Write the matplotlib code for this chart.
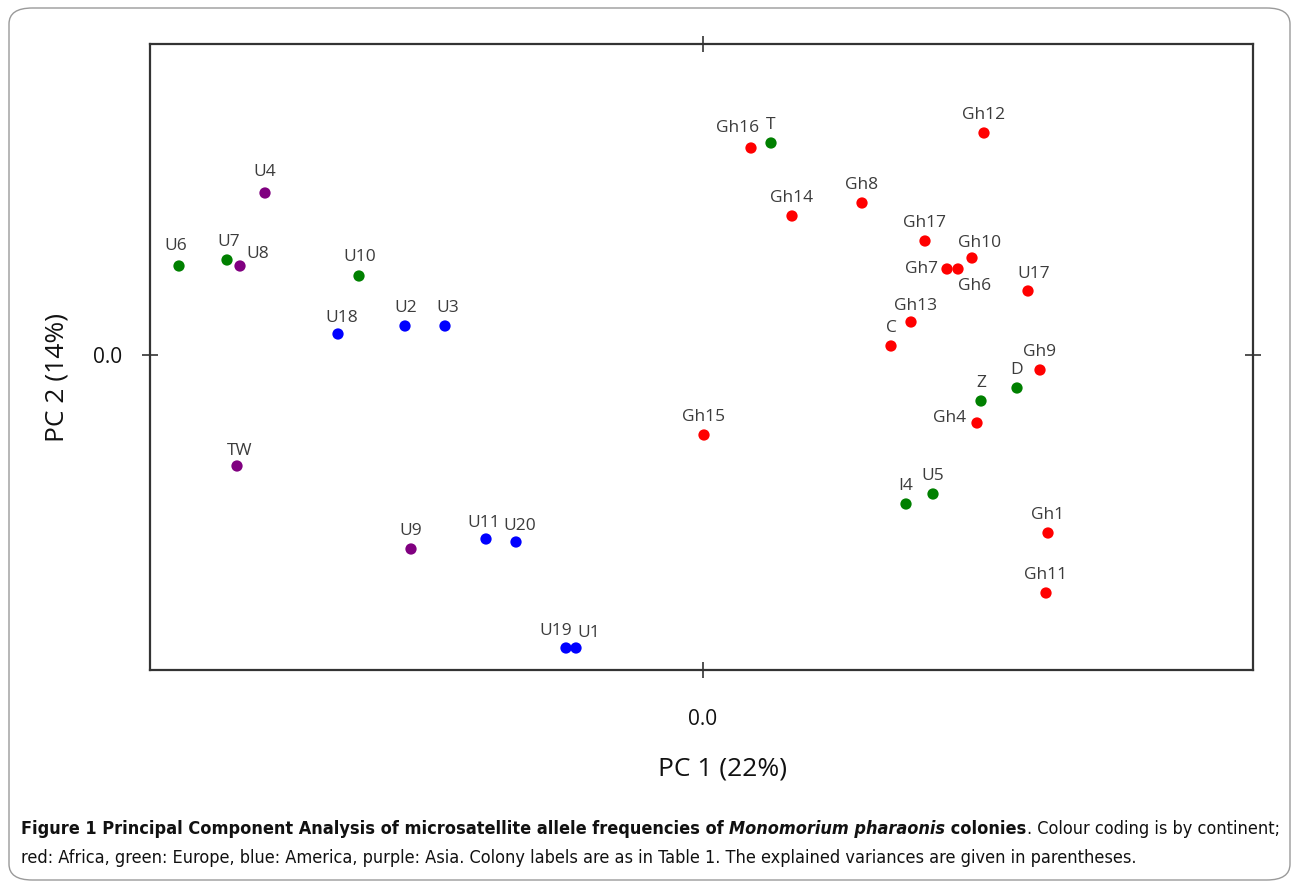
import matplotlib
matplotlib.use("Agg")
import matplotlib.pyplot as plt
from matplotlib.patches import FancyBboxPatch

# ---- data (PC scores, arbitrary units) ----
africa_labels = ["Gh16", "Gh12", "Gh14", "Gh8", "Gh17", "Gh10", "Gh7", "Gh6", "U17",
                 "Gh13", "C", "Gh9", "Gh4", "Gh15", "Gh1", "Gh11"]
africa_pc1 = [0.48, 2.81, 0.89, 1.59, 2.22, 2.69, 2.44, 2.55, 3.25, 2.08, 1.88, 3.37, 2.74, 0.01, 3.45, 3.43]
africa_pc2 = [2.07, 2.22, 1.39, 1.52, 1.14, 0.97, 0.86, 0.86, 0.64, 0.33, 0.09, -0.15, -0.68, -0.80, -1.78, -2.38]

europe_labels = ["U6", "U7", "U10", "T", "Z", "D", "I4", "U5"]
europe_pc1 = [-5.24, -4.76, -3.44, 0.68, 2.78, 3.14, 2.03, 2.30]
europe_pc2 = [0.89, 0.95, 0.79, 2.12, -0.46, -0.33, -1.49, -1.39]

america_labels = ["U18", "U2", "U3", "U11", "U20", "U19", "U1"]
america_pc1 = [-3.65, -2.98, -2.58, -2.17, -1.87, -1.37, -1.27]
america_pc2 = [0.21, 0.29, 0.29, -1.84, -1.87, -2.93, -2.93]

asia_labels = ["U4", "U8", "TW", "U9"]
asia_pc1 = [-4.38, -4.63, -4.66, -2.92]
asia_pc2 = [1.62, 0.89, -1.11, -1.94]

# label offsets in pixels (dx, dy) relative to the point; default is above
label_offsets = {
    "U8": (18, 12), "Gh7": (-25, 0), "Gh6": (17, -17), "U17": (6, 17),
    "Gh16": (-13, 20), "U19": (-10, 17), "U1": (13, 15), "U18": (4, 16),
    "U2": (1, 18), "U3": (3, 18), "TW": (3, 15), "U9": (0, 18),
    "U11": (-2, 16), "U20": (4, 16), "Gh4": (-27, 5), "Gh13": (5, 16),
    "Gh10": (8, 15), "U6": (-3, 20), "U7": (2, 18), "U4": (0, 21),
    "U10": (1, 19),
}

groups = [
    (africa_labels, africa_pc1, africa_pc2, "#ff0000"),
    (europe_labels, europe_pc1, europe_pc2, "#008000"),
    (america_labels, america_pc1, america_pc2, "#0000ff"),
    (asia_labels, asia_pc1, asia_pc2, "#800080"),
]

W, H = 1292, 882
fig = plt.figure(figsize=(W / 100, H / 100), dpi=100)

# rounded outer frame
frame = FancyBboxPatch((9 / W, 2 / H), (W - 11) / W, (880 - 8) / H,
                       boxstyle="round,pad=0,rounding_size=0.018",
                       transform=fig.transFigure, fill=False,
                       edgecolor="#9a9a9a", linewidth=1.0)
fig.patches.append(frame)

ax = fig.add_axes([150 / W, (H - 670) / H, 1103 / W, 626 / H])
ax.set_xlim(-5.53, 5.50)
ax.set_ylim(-3.15, 3.11)

px = 0.72  # points per pixel at 100 dpi
for labels, xs, ys, col in groups:
    ax.scatter(xs, ys, s=66, color=col, marker="o", edgecolors="none", zorder=3)
    for lab, x, y in zip(labels, xs, ys):
        dx, dy = label_offsets.get(lab, (0, 18))
        ax.annotate(lab, (x, y), xytext=(dx * px, dy * px), textcoords="offset points",
                    ha="center", va="center", fontsize=12.5, color="#3c3c3c",
                    family="Open Sans")

for sp in ax.spines.values():
    sp.set_color("#333333")
    sp.set_linewidth(1.6)

ax.set_xticks([0.0])
ax.set_yticks([0.0])
ax.set_xticklabels(["0.0"])
ax.set_yticklabels(["0.0"])
ax.tick_params(axis="both", which="both", direction="inout", length=12, width=1.2,
               color="#333333", top=True, right=True, labeltop=False, labelright=False,
               labelsize=15, labelcolor="#111111")
ax.tick_params(axis="x", pad=22)
ax.tick_params(axis="y", pad=14)
for t in ax.get_xticklabels() + ax.get_yticklabels():
    t.set_family("Open Sans")

fig.text(723 / W, 1 - 769 / H, "PC 1 (22%)", ha="center", va="center",
         fontsize=19, family="Open Sans", color="#111111")
fig.text(57 / W, 1 - 378 / H, "PC 2 (14%)", ha="center", va="center",
         fontsize=19, family="Open Sans", color="#111111", rotation=90)

# caption, drawn as consecutive pieces, fitted to the reference width
cap_family = ["DejaVu Sans"]
renderer = fig.canvas.get_renderer()
pieces = [
    ("Figure 1 Principal Component Analysis of microsatellite allele frequencies of ", "bold", "normal"),
    ("Monomorium pharaonis", "bold", "italic"),
    (" colonies", "bold", "normal"),
    (". Colour coding is by continent;", "normal", "normal"),
]
line2 = ("red: Africa, green: Europe, blue: America, purple: Asia. Colony labels are as in Table 1. "
         "The explained variances are given in parentheses.")
x0 = 21
x_end = 1273
y_line1 = 1 - 829 / H


def draw_line1(size):
    arts = []
    xcur = x0
    for txt, wgt, sty in pieces:
        t = fig.text(xcur / W, y_line1, txt, ha="left", va="center", fontsize=size,
                     fontweight=wgt, fontstyle=sty, family=cap_family,
                     fontstretch="condensed", color="#111111")
        bb = t.get_window_extent(renderer=renderer)
        arts.append(t)
        xcur = bb.x1
    return arts, xcur


size = 12.0
arts, xe = draw_line1(size)
for a in arts:
    a.remove()
size = size * (x_end - x0) / (xe - x0)
arts, xe = draw_line1(size)
fig.text(x0 / W, 1 - 858 / H, line2, ha="left", va="center", fontsize=size,
         family=cap_family, fontstretch="condensed", color="#111111")

fig.savefig("out.png", dpi=100)
